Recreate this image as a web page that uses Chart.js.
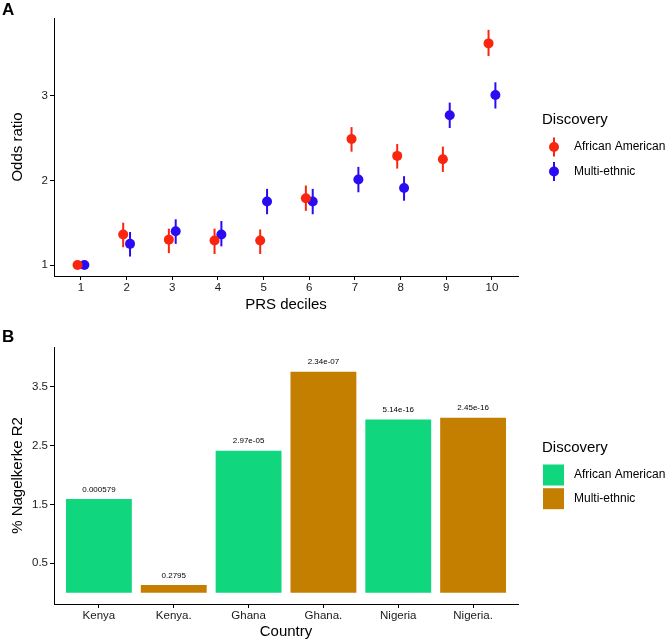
<!DOCTYPE html>
<html>
<head>
<meta charset="utf-8">
<script src="https://cdn.jsdelivr.net/npm/chart.js@4.4.1/dist/chart.umd.min.js"></script>
<style>
  body { margin: 0; background: #fff; }
  #wrap { position: relative; width: 668px; height: 643px; }
  #chartA { position: absolute; left: 0; top: 0; }
  #chartB { position: absolute; left: 0; top: 318px; }
</style>
</head>
<body>
<div id="wrap">
  <canvas id="chartA" width="668" height="318"></canvas>
  <canvas id="chartB" width="668" height="325"></canvas>
</div>
<script>
// 패널 A 데이터 : PRS decile 별 odds ratio
const deciles = [1, 2, 3, 4, 5, 6, 7, 8, 9, 10];
const aaOR = [1.0, 1.36, 1.30, 1.29, 1.29, 1.79, 2.49, 2.29, 2.25, 3.62];
const aaLo = [1.0, 1.21, 1.14, 1.13, 1.13, 1.64, 2.34, 2.14, 2.10, 3.47];
const aaHi = [1.0, 1.50, 1.43, 1.43, 1.42, 1.94, 2.63, 2.43, 2.40, 3.78];
const meOR = [1.0, 1.25, 1.40, 1.36, 1.75, 1.75, 2.01, 1.91, 2.77, 3.01];
const meLo = [1.0, 1.10, 1.25, 1.22, 1.60, 1.60, 1.86, 1.76, 2.62, 2.85];
const meHi = [1.0, 1.39, 1.54, 1.52, 1.90, 1.90, 2.16, 2.05, 2.92, 3.16];
const orTicks = [1, 2, 3];

// 패널 B 데이터 : 국가별 Nagelkerke R2
const countries = ["Kenya", "Kenya.", "Ghana", "Ghana.", "Nigeria", "Nigeria."];
const r2 = [1.59, 0.133, 2.41, 3.75, 2.94, 2.97];
const pvals = ["0.000579", "0.2795", "2.97e-05", "2.34e-07", "5.14e-16", "2.45e-16"];
const barGroup = ["African American", "Multi-ethnic", "African American", "Multi-ethnic", "African American", "Multi-ethnic"];
const r2Ticks = [0.5, 1.5, 2.5, 3.5];

const groups = ["African American", "Multi-ethnic"];
const pointColors = ["#F9250F", "#2A0CF2"];
const barColors = ["#10D67E", "#C47F00"];

const FONT = '"Liberation Sans", Arial, sans-serif';
Chart.defaults.font.family = FONT;
Chart.defaults.color = "#1a1a1a";

const dodge = 0.075;

// 함수명 : axisY / axisX
// 기능 : ggplot theme_classic 모양의 축 옵션
function axisY(min, max, ticks, title, width) {
  return {
    type: "linear",
    min: min,
    max: max,
    afterBuildTicks: (s) => { s.ticks = ticks.map((v) => ({ value: v })); },
    afterFit: (s) => { s.width = width; },
    grid: { display: true, drawOnChartArea: false, drawTicks: true, tickLength: 4, color: "#000" },
    border: { display: true, color: "#000", width: 1 },
    ticks: { font: { size: 11.5 }, color: "#1a1a1a", padding: 2 },
    title: { display: true, text: title, font: { size: 15 }, color: "#000", padding: { top: 9, bottom: 0 } },
  };
}

function axisX(min, max, ticks, labels, title, height, pad) {
  return {
    type: "linear",
    min: min,
    max: max,
    offset: false,
    afterBuildTicks: (s) => { s.ticks = ticks.map((v) => ({ value: v })); },
    afterFit: (s) => { s.height = height; },
    grid: { display: true, offset: false, drawOnChartArea: false, drawTicks: true, tickLength: 4, color: "#000" },
    border: { display: true, color: "#000", width: 1 },
    ticks: {
      font: { size: 11.5 }, color: "#1a1a1a", padding: 1, maxRotation: 0, autoSkip: false,
      callback: (v) => labels[ticks.indexOf(v)],
    },
    title: { display: true, text: title, font: { size: 15 }, color: "#000", padding: { top: 0, bottom: pad } },
  };
}

// 에러바 그리기 플러그인
const errorBars = {
  id: "errorBars",
  beforeDatasetsDraw(chart) {
    const { ctx, scales } = chart;
    chart.data.datasets.forEach((ds, i) => {
      if (!ds.lo) return;
      const meta = chart.getDatasetMeta(i);
      ctx.save();
      ctx.strokeStyle = ds.backgroundColor;
      ctx.lineWidth = 2;
      meta.data.forEach((pt, j) => {
        ctx.beginPath();
        ctx.moveTo(pt.x, scales.y.getPixelForValue(ds.lo[j]));
        ctx.lineTo(pt.x, scales.y.getPixelForValue(ds.hi[j]));
        ctx.stroke();
      });
      ctx.restore();
    });
  },
};

// 패널 라벨 + 범례 그리기
function panelDecor(letter, letterY, legendY, kind) {
  return {
    id: "decor" + letter,
    afterDraw(chart) {
      const ctx = chart.ctx;
      ctx.save();
      ctx.fillStyle = "#000";
      ctx.textBaseline = "middle";
      ctx.textAlign = "left";
      ctx.font = "bold 17px " + FONT;
      ctx.fillText(letter, 2, letterY);

      ctx.font = "15px " + FONT;
      ctx.fillText("Discovery", 542, legendY);
      ctx.font = "12px " + FONT;
      groups.forEach((g, i) => {
        if (kind === "point") {
          const cy = legendY + 27 + i * 24.5;
          ctx.strokeStyle = pointColors[i];
          ctx.lineWidth = 2;
          ctx.beginPath();
          ctx.moveTo(554, cy - 9.5);
          ctx.lineTo(554, cy + 9.5);
          ctx.stroke();
          ctx.fillStyle = pointColors[i];
          ctx.beginPath();
          ctx.arc(554, cy, 5, 0, Math.PI * 2);
          ctx.fill();
          ctx.fillStyle = "#000";
          ctx.fillText(g, 574, cy);
        } else {
          const top = legendY + 16.5 + i * 23.7;
          ctx.fillStyle = barColors[i];
          ctx.fillRect(543, top, 21, 21);
          ctx.fillStyle = "#000";
          ctx.fillText(g, 574, top + 10.5);
        }
      });
      ctx.restore();
    },
  };
}

// 막대 위 p-value 라벨
const barLabels = {
  id: "barLabels",
  afterDatasetsDraw(chart) {
    const ctx = chart.ctx;
    const meta = chart.getDatasetMeta(0);
    ctx.save();
    ctx.fillStyle = "#000";
    ctx.font = "8px " + FONT;
    ctx.textAlign = "center";
    ctx.textBaseline = "middle";
    meta.data.forEach((bar, i) => {
      ctx.fillText(pvals[i], bar.x, bar.y - 9.5);
    });
    ctx.restore();
  },
};

// 패널 A : odds ratio 점 그래프
new Chart(document.getElementById("chartA"), {
  type: "scatter",
  data: {
    datasets: [
      {
        label: groups[0],
        data: deciles.map((d, i) => ({ x: d - dodge, y: aaOR[i] })),
        lo: aaLo,
        hi: aaHi,
        backgroundColor: pointColors[0],
        pointRadius: 5,
        pointHoverRadius: 5,
        borderWidth: 0,
      },
      {
        label: groups[1],
        data: deciles.map((d, i) => ({ x: d + dodge, y: meOR[i] })),
        lo: meLo,
        hi: meHi,
        backgroundColor: pointColors[1],
        pointRadius: 5,
        pointHoverRadius: 5,
        borderWidth: 0,
      },
    ],
  },
  options: {
    responsive: false,
    animation: false,
    layout: { padding: { left: 0, top: 18, right: 150, bottom: 0 } },
    plugins: { legend: { display: false }, tooltip: { enabled: false } },
    scales: {
      x: axisX(0.41, 10.57, deciles, deciles.map(String), "PRS deciles", 42, 4),
      y: axisY(0.87, 3.92, orTicks, "Odds ratio", 54),
    },
  },
  plugins: [errorBars, panelDecor("A", 10, 120, "point")],
});

// 패널 B : Nagelkerke R2 막대 그래프
const barPos = countries.map((c, i) => i + 1);
new Chart(document.getElementById("chartB"), {
  type: "bar",
  data: {
    datasets: [
      {
        data: barPos.map((x, i) => ({ x: x, y: r2[i] })),
        backgroundColor: barGroup.map((g) => barColors[groups.indexOf(g)]),
        borderWidth: 0,
        categoryPercentage: 1,
        barPercentage: 0.88,
      },
    ],
  },
  options: {
    responsive: false,
    animation: false,
    layout: { padding: { left: 0, top: 29, right: 150, bottom: 0 } },
    plugins: { legend: { display: false }, tooltip: { enabled: false } },
    scales: {
      x: axisX(0.4, 6.6, barPos, countries, "Country", 39, 2),
      y: axisY(-0.19, 4.17, r2Ticks, "% Nagelkerke R2", 54),
    },
  },
  plugins: [barLabels, panelDecor("B", 19, 130, "bar")],
});
</script>
</body>
</html>
